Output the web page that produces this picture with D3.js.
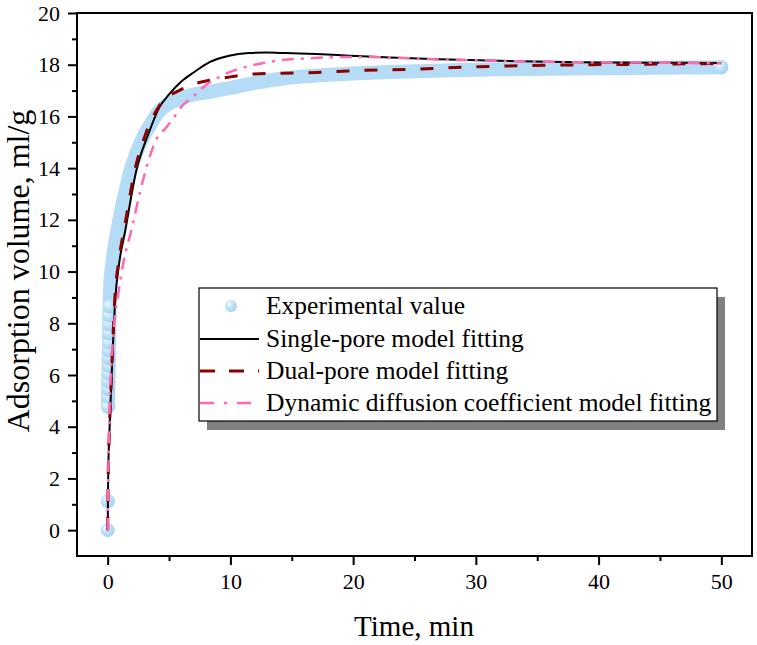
<!DOCTYPE html>
<html>
<head>
<meta charset="utf-8">
<script src="https://cdn.jsdelivr.net/npm/d3@7"></script>
<style>
  body { margin: 0; background: #fff; }
  text { font-family: "Liberation Serif", "Times New Roman", serif; fill: #000; }
</style>
</head>
<body>
<svg id="chart" width="757" height="645"></svg>
<script>
// experimental readings (min, ml/g)
const expTime  = [0, 0.01, 0.03, 0.04, 0.05, 0.06, 0.07, 0.08, 0.09, 0.1, 0.11, 0.12, 0.13, 0.14, 0.15,
  0.2, 0.3, 0.45, 0.6, 0.8, 1.0, 1.25, 1.5, 1.85, 2.2, 2.6, 3.0, 3.5, 4.2, 5, 6, 7, 8.3, 10, 12, 14, 16,
  19.5, 23, 28, 32, 36, 40, 44, 48, 50];
const expValue = [0, 1.12, 4.77, 5.15, 5.45, 5.75, 6.05, 6.35, 6.65, 6.95, 7.25, 7.6, 7.95, 8.3, 8.65,
  9.4, 10.0, 10.6, 11.1, 11.6, 12.1, 12.7, 13.2, 13.9, 14.4, 14.9, 15.3, 15.7, 16.2, 16.5, 16.7, 16.85, 16.95, 17.1, 17.3, 17.45, 17.55,
  17.65, 17.72, 17.79, 17.82, 17.84, 17.86, 17.88, 17.89, 17.9];

// single-pore model
const singleTime  = [0, 0.03, 0.05, 0.12, 0.22, 0.35, 0.63, 0.9, 1.44, 2.33, 3.3, 4.23, 5, 6, 7, 8.3, 9.9,
  11.5, 13, 14.5, 17, 19.7, 23, 27, 31, 36, 40, 44, 50];
const singleValue = [0, 1.55, 2.3, 3.5, 4.77, 6.3, 9.0, 10.2, 11.6, 13.9, 15.3, 16.37, 16.85, 17.35, 17.7, 18.1, 18.35,
  18.45, 18.47, 18.45, 18.41, 18.35, 18.28, 18.21, 18.16, 18.11, 18.09, 18.08, 18.07];

// dual-pore model
const dualTime  = [0, 0.03, 0.12, 0.22, 0.35, 0.6, 0.9, 1.4, 2.2, 3.0, 4.2, 5.0, 5.6, 6.7, 8.3, 10, 11.6,
  14, 17, 19.6, 25, 30, 36, 44, 50];
const dualValue = [0, 1.6, 3.6, 4.9, 6.5, 9.1, 10.4, 11.8, 13.9, 15.2, 16.4, 16.8, 16.95, 17.2, 17.4, 17.53, 17.63,
  17.67, 17.7, 17.76, 17.83, 17.92, 17.98, 18.02, 18.05];

// dynamic diffusion coefficient model
const dynTime  = [0, 0.03, 0.1, 0.16, 0.3, 0.5, 0.85, 1.3, 1.93, 2.6, 3.2, 4.2, 4.64, 5.3, 6.0, 6.95, 7.8,
  9.1, 10.75, 12.4, 14, 16.5, 19.5, 23, 27, 31, 36, 44, 50];
const dynValue = [0, 1.5, 3.3, 4.77, 6.4, 7.8, 9.1, 10.4, 11.6, 13.0, 14.1, 15.3, 15.5, 15.9, 16.37, 16.76, 17.14,
  17.53, 17.85, 18.04, 18.17, 18.25, 18.3, 18.28, 18.2, 18.16, 18.11, 18.08, 18.05];

const xTicks = [0, 10, 20, 30, 40, 50];
const yTicks = [0, 2, 4, 6, 8, 10, 12, 14, 16, 18, 20];
const legendLabels = [
  "Experimental value",
  "Single-pore model fitting",
  "Dual-pore model fitting",
  "Dynamic diffusion coefficient model fitting"
];

const margin = {top: 13, right: 5, bottom: 89, left: 77};
const width = 757, height = 645;
const serif = "'Liberation Serif', 'Times New Roman', serif";

let svg = d3.select("#chart");
let xScale = d3.scaleLinear().domain([-2.5, 52.5]).range([margin.left, width - margin.right]);
let yScale = d3.scaleLinear().domain([-1, 20]).range([height - margin.bottom, margin.top]);

let defs = svg.append("defs");
let grad = defs.append("radialGradient").attr("id", "ball")
  .attr("cx", "40%").attr("cy", "38%").attr("r", "60%").attr("fx", "35%").attr("fy", "30%");
grad.append("stop").attr("offset", "0%").attr("stop-color", "#f4faff");
grad.append("stop").attr("offset", "55%").attr("stop-color", "#bfe1f9");
grad.append("stop").attr("offset", "100%").attr("stop-color", "#a6d2f2");

function zip(t, v) { return t.map(function(d, i) { return [d, v[i]]; }); }

let line = d3.line()
  .x(function(d) { return xScale(d[0]); })
  .y(function(d) { return yScale(d[1]); })
  .curve(d3.curveMonotoneX);

let plot = svg.append("g");

// experimental band (dense overlapping points) + distinct early points
let expData = zip(expTime, expValue);
plot.append("path")
  .datum(expData.slice(2))
  .attr("d", line)
  .attr("fill", "none")
  .attr("stroke", "#b5dcf7")
  .attr("stroke-width", 14)
  .attr("stroke-linecap", "round")
  .attr("stroke-linejoin", "round");

plot.selectAll("circle.exp")
  .data(expData.filter(function(d) { return d[1] < 9 || d[0] === 50; }))
  .enter()
  .append("circle")
  .attr("class", "exp")
  .attr("cx", function(d) { return xScale(d[0]); })
  .attr("cy", function(d) { return yScale(d[1]); })
  .attr("r", 7)
  .attr("fill", "url(#ball)");

plot.append("path")
  .datum(zip(singleTime, singleValue))
  .attr("d", line)
  .attr("fill", "none")
  .attr("stroke", "#000")
  .attr("stroke-width", 2);

plot.append("path")
  .datum(zip(dualTime, dualValue))
  .attr("d", line)
  .attr("fill", "none")
  .attr("stroke", "#8b0000")
  .attr("stroke-width", 3)
  .attr("stroke-dasharray", "13,15");

plot.append("path")
  .datum(zip(dynTime, dynValue))
  .attr("d", line)
  .attr("fill", "none")
  .attr("stroke", "#ff69b4")
  .attr("stroke-width", 2.5)
  .attr("stroke-dasharray", "12,7,3,7");

// axes
let xAxis = d3.axisBottom(xScale).tickValues(xTicks).tickSize(9).tickPadding(8).tickFormat(d3.format("d"));
let xMinor = d3.axisBottom(xScale).tickValues([5, 15, 25, 35, 45]).tickSize(5).tickFormat("");
let yAxis = d3.axisLeft(yScale).tickValues(yTicks).tickSize(9).tickPadding(8).tickFormat(d3.format("d"));
let yMinor = d3.axisLeft(yScale).tickValues([1, 3, 5, 7, 9, 11, 13, 15, 17, 19]).tickSize(5).tickFormat("");

function styleAxis(g) {
  g.attr("font-family", serif).attr("font-size", 22);
  g.select(".domain").remove();
  g.selectAll("line").attr("stroke", "#000").attr("stroke-width", 2);
  g.selectAll("text").style("font-family", serif).style("font-size", "22px");
}

svg.append("g").attr("transform", "translate(0," + yScale.range()[0] + ")").call(xAxis).call(styleAxis);
svg.append("g").attr("transform", "translate(0," + yScale.range()[0] + ")").call(xMinor).call(styleAxis);
svg.append("g").attr("transform", "translate(" + xScale.range()[0] + ",0)").call(yAxis).call(styleAxis);
svg.append("g").attr("transform", "translate(" + xScale.range()[0] + ",0)").call(yMinor).call(styleAxis);

// frame
svg.append("rect")
  .attr("x", xScale.range()[0]).attr("y", yScale.range()[1])
  .attr("width", xScale.range()[1] - xScale.range()[0])
  .attr("height", yScale.range()[0] - yScale.range()[1])
  .attr("fill", "none").attr("stroke", "#000").attr("stroke-width", 2);

// axis titles
svg.append("text")
  .attr("x", 414).attr("y", 636)
  .attr("text-anchor", "middle")
  .style("font-size", "29px")
  .text("Time, min");

svg.append("text")
  .attr("transform", "translate(29," + 271 + ") rotate(-90)")
  .attr("text-anchor", "middle")
  .style("font-size", "32px")
  .text("Adsorption volume, ml/g");

// legend
let lg = svg.append("g").attr("transform", "translate(199,288)");
lg.append("rect").attr("x", 8).attr("y", 9).attr("width", 518).attr("height", 133).attr("fill", "#808080");
lg.append("rect").attr("x", 0).attr("y", 0).attr("width", 518).attr("height", 133)
  .attr("fill", "#fff").attr("stroke", "#000").attr("stroke-width", 1.2);

let rowY = [18, 51, 83, 115];
lg.append("circle").attr("cx", 32).attr("cy", rowY[0]).attr("r", 6).attr("fill", "url(#ball)");
lg.append("line").attr("x1", 1).attr("x2", 60).attr("y1", rowY[1]).attr("y2", rowY[1])
  .attr("stroke", "#000").attr("stroke-width", 2);
lg.append("line").attr("x1", 1).attr("x2", 60).attr("y1", rowY[2]).attr("y2", rowY[2])
  .attr("stroke", "#8b0000").attr("stroke-width", 3).attr("stroke-dasharray", "15,14");
lg.append("line").attr("x1", 1).attr("x2", 60).attr("y1", rowY[3]).attr("y2", rowY[3])
  .attr("stroke", "#ff69b4").attr("stroke-width", 2.5).attr("stroke-dasharray", "14,10,3,10");

lg.selectAll("text.lab")
  .data(legendLabels)
  .enter()
  .append("text")
  .attr("class", "lab")
  .attr("x", 67)
  .attr("y", function(d, i) { return rowY[i] + 8; })
  .style("font-size", "25.5px")
  .text(function(d) { return d; });
</script>
</body>
</html>
